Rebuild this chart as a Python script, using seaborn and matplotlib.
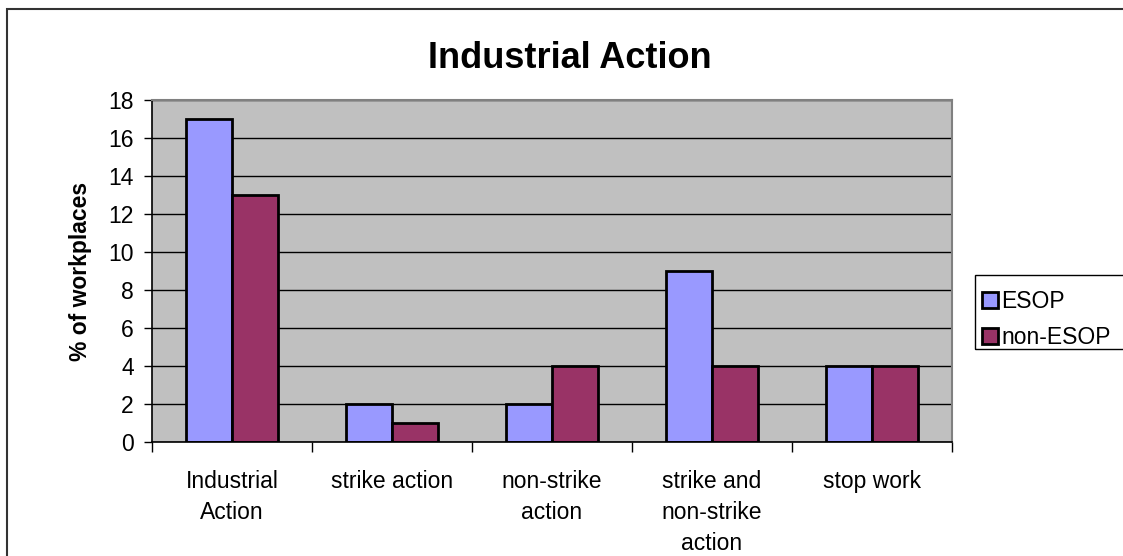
import matplotlib
matplotlib.use("Agg")
import matplotlib.pyplot as plt
import matplotlib.patches as mpatches
import seaborn as sns
import pandas as pd
import numpy as np

categories = ["Industrial\nAction", "strike action", "non-strike\naction",
              "strike and\nnon-strike\naction", "stop work"]
esop = [17, 2, 2, 9, 4]
non_esop = [13, 1, 4, 4, 4]
series = ["ESOP", "non-ESOP"]
colors = ["#9999FF", "#993366"]

df = pd.DataFrame({
    "category": categories * 2,
    "value": esop + non_esop,
    "series": [series[0]] * len(categories) + [series[1]] * len(categories),
})

sns.set_style("white")
plt.rcParams["font.family"] = ["Liberation Sans", "DejaVu Sans"]
plt.rcParams["text.color"] = "black"
plt.rcParams["axes.labelcolor"] = "black"
plt.rcParams["xtick.color"] = "black"
plt.rcParams["ytick.color"] = "black"

fig = plt.figure(figsize=(11.23, 5.56), dpi=100)
ax = fig.add_axes([152/1123, 1-442/556, 800/1123, 342/556])
ax.set_facecolor("#C0C0C0")

sns.barplot(data=df, x="category", y="value", hue="series", palette=colors,
            width=0.571, gap=0, edgecolor="black", linewidth=2.0,
            saturation=1, ax=ax, legend=True, errorbar=None)

ax.set_ylim(0, 18)
ax.set_xlim(-0.5, len(categories) - 0.5)
ax.set_yticks(np.arange(0, 19, 2))
ax.yaxis.grid(True, color="black", linewidth=1.0)
ax.set_axisbelow(True)

ax.tick_params(axis="y", direction="out", length=6, width=1, color="black",
               labelcolor="black", labelsize=16.5, pad=7, left=True)
ax.set_xticks(np.arange(len(categories)))
ax.set_xticklabels(categories, fontsize=16.5, linespacing=1.45, va="top",
                   color="black")
ax.tick_params(axis="x", length=0, pad=20)
ax.set_xticks(np.arange(-0.5, len(categories), 1), minor=True)
ax.tick_params(axis="x", which="minor", direction="out", length=7, width=1,
               color="black", bottom=True)

for s in ["left", "bottom"]:
    ax.spines[s].set_color("black")
    ax.spines[s].set_linewidth(1.2)
for s in ["top", "right"]:
    ax.spines[s].set_color("#808080")
    ax.spines[s].set_linewidth(1.5)

ax.set_xlabel("")
ax.set_ylabel("% of workplaces", fontsize=16.5, fontweight="bold", labelpad=12,
              color="black")
fig.text(570/1123, 1-58/556, "Industrial Action", fontsize=26,
         fontweight="bold", ha="center", va="center", color="black")

ax.get_legend().remove()
handles = [mpatches.Patch(facecolor=c, edgecolor="black", linewidth=2.0, label=l)
           for c, l in zip(colors, series)]
leg = fig.legend(handles=handles, loc="upper left",
                 bbox_to_anchor=(982/1123, 1-290/556), fontsize=16.5,
                 frameon=False, handlelength=0.7,
                 handleheight=0.7, handletextpad=0.15, borderpad=0,
                 labelspacing=0.55, borderaxespad=0)
for t in leg.get_texts():
    t.set_color("black")

legbox = mpatches.Rectangle((975/1123, 1-349/556), 0.2, 74/556,
                            transform=fig.transFigure, fill=False,
                            edgecolor="black", linewidth=1.0, clip_on=False)
fig.patches.append(legbox)

border = mpatches.Rectangle((7/1123, -0.05), 1.2, 1-9/556 + 0.05,
                            transform=fig.transFigure, fill=False,
                            edgecolor="#333333", linewidth=1.5, clip_on=False)
fig.patches.append(border)

fig.savefig("out.png", dpi=100)
